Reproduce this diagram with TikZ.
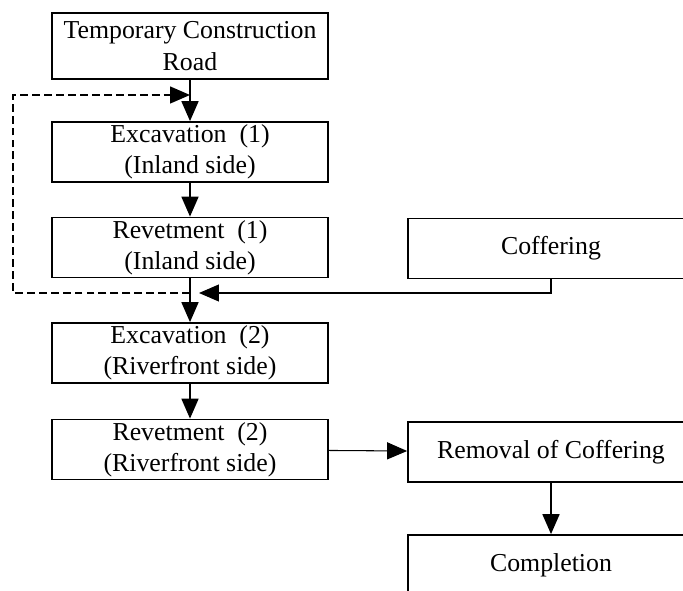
\documentclass[tikz,border=0pt]{standalone}
\usepackage{fontspec}
\setmainfont{Liberation Serif}
\usetikzlibrary{arrows.meta}
\begin{document}
\begin{tikzpicture}[x=0.02cm,y=-0.02cm,>={Triangle[length=0.4cm,width=0.34cm]},
			main node/.style = {rectangle,draw,line width=1pt, minimum width=5.52cm, minimum height=1.2cm, inner sep = 0pt, align=center, font=\fontsize{14.7}{17.5}\selectfont},
			side node/.style = {main node, minimum width=5.72cm},
			flow/.style = {->,line width=1pt},
			thin flow/.style = {->,line width=0.6pt}]
			
			\clip (0,0) rectangle (683,591);
			\node[main node,minimum height=1.32cm] (1) at (190,46) {Temporary Construction\\[1pt]Road};
			\node[main node] (2) at (190,152) {Excavation\ \ (1)\\(Inland side)};
			\node[main node] (3) at (190,247.5) {Revetment\ \ (1)\\(Inland side)};
			\node[main node] (4) at (190,353) {Excavation\ \ (2)\\(Riverfront side)};
			\node[main node] (5) at (190,449.5) {Revetment\ \ (2)\\(Riverfront side)};
			\node[side node] (6) at (551,248.5) {Coffering};
			\node[side node] (7) at (551,452) {Removal of Coffering};
			\node[side node] (8) at (551,565) {Completion};
			\coordinate (a) at (190,293);
			\coordinate (b) at (190,95);
			\coordinate (c) at (13,293);
			
			\draw[flow] (1) -- (2);
			\draw[flow] (2) -- (3);
			\draw[flow] (3) -- (4);
			\draw[flow] (4) -- (5);
			\draw[flow] (7) -- (8);
			\draw[thin flow] (5) -- (7);
			\draw[thin flow,shorten >=0.18cm] (6) |- (a);
			\draw[->,line width=0.8pt,dash pattern=on 4.5pt off 2.3pt] (a) -- (c) |- (b);
			
			\end{tikzpicture}
\end{document}
